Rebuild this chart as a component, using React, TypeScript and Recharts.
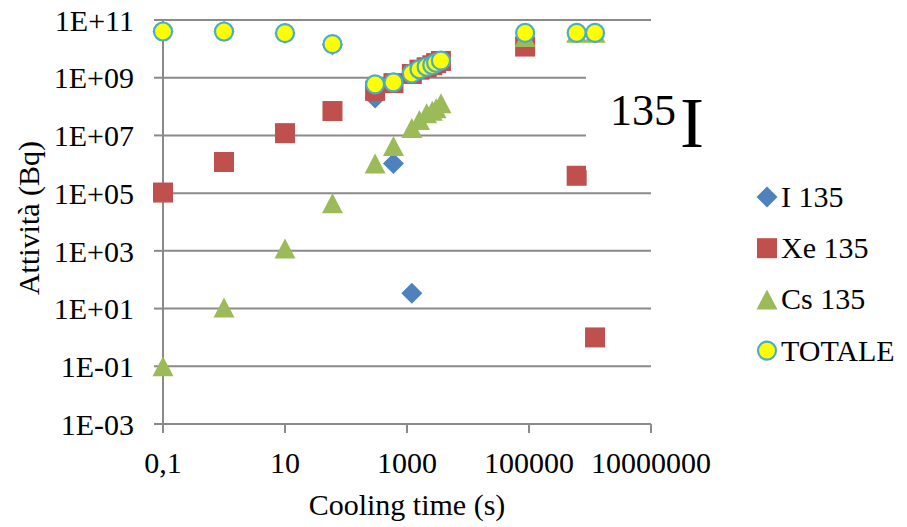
import { ScatterChart, Scatter, XAxis, YAxis, CartesianGrid, Label } from 'recharts'

const FONT = "'Liberation Serif', 'Times New Roman', serif"
const GRID = '#8a8a8a'

// cooling times (s)
const times = [0.1, 1, 10, 60, 300, 600, 1200, 1600, 2100, 2600, 3000, 3600, 86400, 604800, 1209600]

// activities (Bq), null where no point is drawn
const i135 = [4e10, 4e10, 3.5e10, 1.4e10, 2e8, 1.07e6, 34, null, null, null, null, null, null, null, null]
const xe135 = [1.05e5, 1.2e6, 1.2e7, 7e7, 3.5e8, 6.5e8, 1.35e9, 1.9e9, 2.3e9, 2.7e9, 3.2e9, 3.8e9, 1.2e10, 4e5, 1.0]
const cs135 = [0.1, 11, 1.2e3, 4.5e4, 1.07e6, 4.3e6, 1.8e7, 3.4e7, 5.9e7, 7.2e7, 8.8e7, 1.3e8, 2.6e10, 3.6e10, 3.6e10]
const totale = [4e10, 4e10, 3.5e10, 1.45e10, 5.9e8, 6.9e8, 1.4e9, 1.96e9, 2.4e9, 2.76e9, 3.3e9, 3.9e9, 3.6e10, 3.6e10, 3.6e10]

const xTicks = [0.1, 10, 1000, 100000, 10000000]
const yTicks = [1e-3, 1e-1, 1e1, 1e3, 1e5, 1e7, 1e9, 1e11]

const toPoints = (vals: (number | null)[]) =>
  times.map((x, i) => ({ x, y: vals[i] })).filter((p) => p.y != null)

const fmtY = (v: number) => {
  const e = Math.round(Math.log10(v))
  return `1E${e < 0 ? '-' : '+'}${String(Math.abs(e)).padStart(2, '0')}`
}
const fmtX = (v: number) => (v === 0.1 ? '0,1' : String(v))

const Diamond = ({ cx, cy }: any) => (
  <path d={`M${cx},${cy - 10.5}L${cx + 10.5},${cy}L${cx},${cy + 10.5}L${cx - 10.5},${cy}Z`} fill="#4F81BD" />
)
const Square = ({ cx, cy }: any) => (
  <rect x={cx - 10} y={cy - 10} width={20} height={20} fill="#C0504D" />
)
const Triangle = ({ cx, cy }: any) => (
  <path d={`M${cx},${cy - 10}L${cx + 10.5},${cy + 10}L${cx - 10.5},${cy + 10}Z`} fill="#9BBB59" />
)
const Dot = ({ cx, cy }: any) => (
  <circle cx={cx} cy={cy} r={9} fill="#FFFF00" stroke="#4BACC6" strokeWidth={2.2} />
)

const series = [
  { name: 'I 135', Shape: Diamond },
  { name: 'Xe 135', Shape: Square },
  { name: 'Cs 135', Shape: Triangle },
  { name: 'TOTALE', Shape: Dot },
]

function LegendBox() {
  return (
    <svg width={157} height={200} style={{ position: 'absolute', left: 750, top: 175 }}>
      {series.map(({ name, Shape }, i) => (
        <g key={name}>
          <Shape cx={17} cy={22 + i * 51.2} />
          <text x={31} y={32 + i * 51.2} fontFamily={FONT} fontSize={30} fill="#000">
            {name}
          </text>
        </g>
      ))}
    </svg>
  )
}

export default function App() {
  return (
    <div style={{ position: 'absolute', left: 0, top: 0, width: 907, height: 527, background: '#fff' }}>
      <ScatterChart width={907} height={527} margin={{ top: 20, right: 256, bottom: 0, left: 0 }}>
        <CartesianGrid horizontal vertical={false} stroke={GRID} strokeWidth={2} />
        <XAxis
          type="number"
          dataKey="x"
          scale="log"
          domain={[0.1, 10000000]}
          ticks={xTicks}
          tickFormatter={fmtX}
          height={103}
          tickSize={9}
          tickMargin={19}
          axisLine={{ stroke: GRID, strokeWidth: 2 }}
          tickLine={{ stroke: GRID, strokeWidth: 2 }}
          tick={{ fill: '#000', fontSize: 30, fontFamily: FONT }}
          interval={0}
        >
          <Label
            content={() => (
              <text x={407} y={515} textAnchor="middle" fontFamily={FONT} fontSize={30} fill="#000">
                Cooling time (s)
              </text>
            )}
          />
        </XAxis>
        <YAxis
          type="number"
          dataKey="y"
          scale="log"
          domain={[0.001, 1e11]}
          ticks={yTicks}
          tickFormatter={fmtY}
          width={163}
          tickSize={9}
          tickMargin={20}
          axisLine={{ stroke: GRID, strokeWidth: 2 }}
          tickLine={{ stroke: GRID, strokeWidth: 2 }}
          tick={{ fill: '#000', fontSize: 30, fontFamily: FONT }}
          interval={0}
        >
          <Label
            content={() => (
              <text
                x={28}
                y={218}
                transform="rotate(-90, 28, 218)"
                textAnchor="middle"
                dominantBaseline="central"
                fontFamily={FONT}
                fontSize={30}
                fill="#000"
              >
                Attività (Bq)
              </text>
            )}
          />
        </YAxis>
        <Scatter name="I 135" data={toPoints(i135)} shape={Diamond} isAnimationActive={false} />
        <Scatter name="Xe 135" data={toPoints(xe135)} shape={Square} isAnimationActive={false} />
        <Scatter name="Cs 135" data={toPoints(cs135)} shape={Triangle} isAnimationActive={false} />
        <Scatter name="TOTALE" data={toPoints(totale)} shape={Dot} isAnimationActive={false} />
      </ScatterChart>
      <LegendBox />
      <svg
        width={140}
        height={118}
        style={{ position: 'absolute', left: 586, top: 52, background: '#fff' }}
      >
        <text x={24} y={73} fontFamily={FONT} fontSize={44} fill="#000">135</text>
        <text x={94} y={95} fontFamily={FONT} fontSize={72} fill="#000">I</text>
      </svg>
    </div>
  )
}
